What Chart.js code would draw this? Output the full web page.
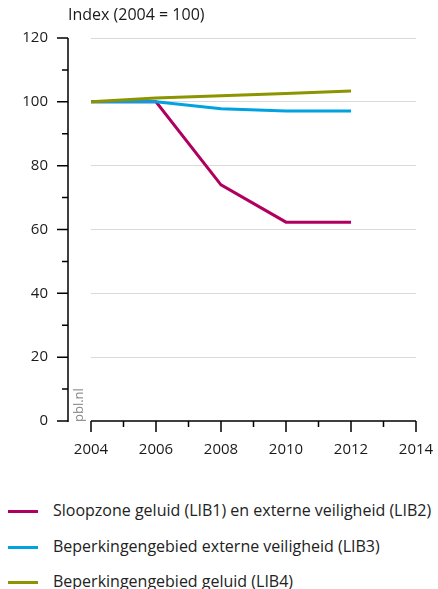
<!DOCTYPE html>
<html>
<head>
<meta charset="utf-8">
<script src="https://cdn.jsdelivr.net/npm/chart.js"></script>
<style>
  body { margin: 0; background: #fff; font-family: "Open Sans", sans-serif; }
  #wrap { position: relative; width: 438px; height: 589px; }
  #title { position: absolute; left: 68px; top: 3px; font-size: 16px; line-height: 22px; color: #1a1a1a; }
  #credit { position: absolute; left: 70px; top: 422px; font-size: 13px; line-height: 16px; color: #888;
            transform: rotate(-90deg); transform-origin: 0 0; white-space: nowrap; }
  .leg { position: absolute; left: 8px; font-size: 16px; line-height: 20px; color: #222; white-space: nowrap; }
  .leg span { display: inline-block; width: 30px; height: 3px; vertical-align: middle; margin-right: 15px; }
</style>
</head>
<body>
<div id="wrap">
  <canvas id="chart" width="438" height="470"></canvas>
  <div id="title">Index (2004 = 100)</div>
  <div id="credit">pbl.nl</div>
  <div id="legend"></div>
</div>
<script>
const years = [2004, 2006, 2008, 2010, 2012];
const sloopzone = [100, 100, 74, 62.3, 62.3];
const externeVeiligheid = [100, 100, 97.8, 97.1, 97.1];
const geluid = [100, 101.2, 101.9, 102.6, 103.4];

const seriesNames = [
  "Sloopzone geluid (LIB1) en externe veiligheid (LIB2)",
  "Beperkingengebied externe veiligheid (LIB3)",
  "Beperkingengebied geluid (LIB4)"
];
const seriesColors = ["#b0005f", "#00a2e2", "#8c9400"];
const xTicks = [2004, 2006, 2008, 2010, 2012, 2014];
const yTicks = [0, 20, 40, 60, 80, 100, 120];

const toPoints = vals => years.map((yr, i) => ({ x: yr, y: vals[i] }));

const axesPlugin = {
  id: 'axes',
  afterDraw(chart) {
    const { ctx, chartArea, scales: { x, y } } = chart;
    const ax = chartArea.left - 23;
    const y0 = y.getPixelForValue(0);
    ctx.save();
    ctx.strokeStyle = '#000';
    ctx.lineWidth = 1.5;
    ctx.beginPath();
    ctx.moveTo(ax, y.getPixelForValue(120));
    ctx.lineTo(ax, y0 + 1);
    for (let v = 0; v <= 120; v += 10) {
      const py = y.getPixelForValue(v);
      ctx.moveTo(ax - (v % 20 === 0 ? 11 : 6), py);
      ctx.lineTo(ax, py);
    }
    ctx.moveTo(x.getPixelForValue(2004), y0);
    ctx.lineTo(x.getPixelForValue(2014), y0);
    for (let yr = 2004; yr <= 2014; yr++) {
      const px = x.getPixelForValue(yr);
      ctx.moveTo(px, y0);
      ctx.lineTo(px, y0 + (yr % 2 === 0 ? 11 : 6));
    }
    ctx.stroke();
    ctx.restore();
  }
};

const noPad = s => { s.paddingTop = 0; s.paddingBottom = 0; s.paddingLeft = 0; s.paddingRight = 0; };

new Chart(document.getElementById('chart'), {
  type: 'line',
  data: {
    datasets: [
      { label: seriesNames[0], data: toPoints(sloopzone), borderColor: seriesColors[0], order: 3 },
      { label: seriesNames[1], data: toPoints(externeVeiligheid), borderColor: seriesColors[1], order: 2 },
      { label: seriesNames[2], data: toPoints(geluid), borderColor: seriesColors[2], order: 1 }
    ]
  },
  options: {
    responsive: false,
    animation: false,
    layout: { padding: { top: 38, right: 22, left: 0, bottom: 0 } },
    elements: {
      line: { borderWidth: 3, tension: 0 },
      point: { radius: 0 }
    },
    plugins: { legend: { display: false }, tooltip: { enabled: false } },
    scales: {
      x: {
        type: 'linear', min: 2004, max: 2014,
        afterBuildTicks: s => { s.ticks = xTicks.map(v => ({ value: v })); },
        afterFit: s => { s.height = 49; noPad(s); },
        grid: { display: false, drawTicks: false },
        border: { display: false },
        ticks: { padding: 20, color: '#1a1a1a', font: { family: 'Open Sans', size: 15 }, callback: v => String(v) }
      },
      y: {
        min: 0, max: 120,
        afterBuildTicks: s => { s.ticks = yTicks.map(v => ({ value: v })); },
        afterFit: s => { s.width = 91; noPad(s); },
        grid: { drawTicks: false, color: c => c.tick && c.tick.value === 0 ? 'rgba(0,0,0,0)' : '#d9d9d9', lineWidth: 1 },
        border: { display: false },
        ticks: { padding: 43, color: '#1a1a1a', font: { family: 'Open Sans', size: 15 } }
      }
    }
  },
  plugins: [axesPlugin]
});

const legend = document.getElementById('legend');
const legendCenters = [511, 547, 582];
seriesNames.forEach((name, i) => {
  const d = document.createElement('div');
  d.className = 'leg';
  d.style.top = (legendCenters[i] - 11) + 'px';
  d.innerHTML = '<span style="background:' + seriesColors[i] + '"></span>' + name;
  legend.appendChild(d);
});
</script>
</body>
</html>
